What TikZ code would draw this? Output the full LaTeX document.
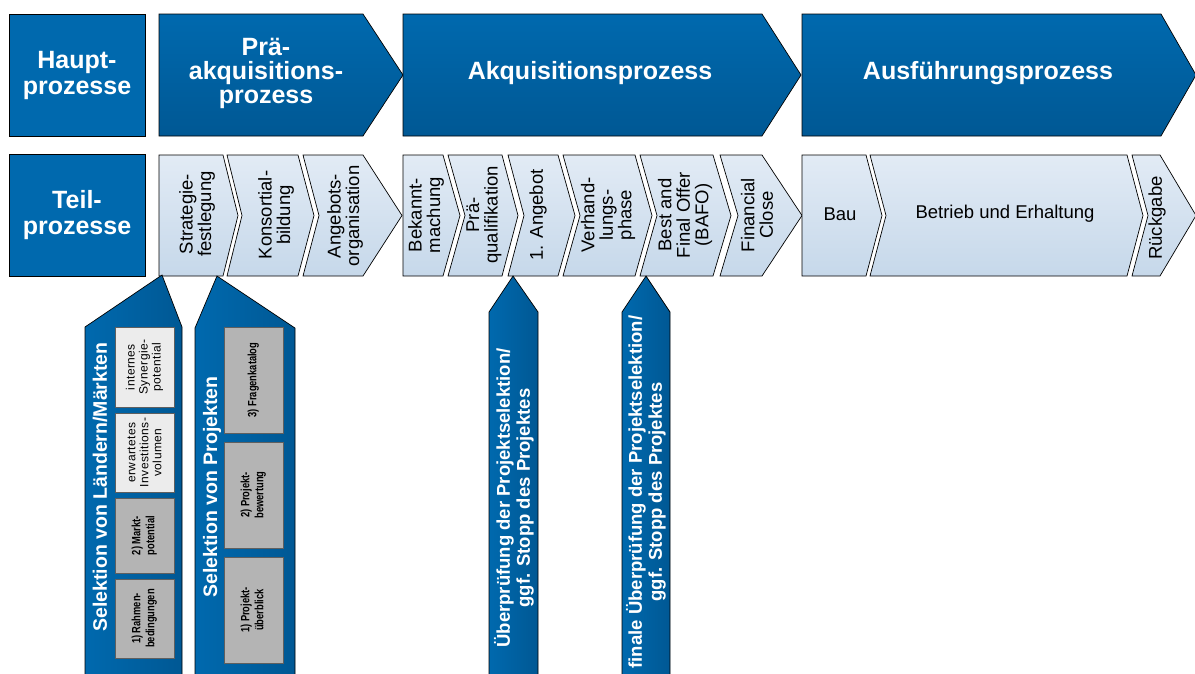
\documentclass[tikz,border=0pt]{standalone}
\usepackage{graphicx}
\usepackage{fontspec}
\setmainfont{Liberation Sans}
\newfontfamily\spacedfont[LetterSpace=4]{Liberation Sans}
\usetikzlibrary{calc,positioning}

\definecolor{procblue}{RGB}{0,105,174}
\definecolor{procbluedark}{RGB}{0,88,148}
\definecolor{sublight}{RGB}{226,235,245}
\definecolor{subdark}{RGB}{198,216,234}
\definecolor{boxdark}{RGB}{180,180,180}
\definecolor{boxlight}{RGB}{236,236,236}
\definecolor{boxedge}{RGB}{95,95,95}

\tikzset{
headbox/.style={draw=black, fill=procblue, minimum width=136pt, minimum height=122pt, inner sep=0pt,
  text=white, font=\bfseries\fontsize{25}{26}\selectfont, align=center},
mainproc/.style={draw=black, top color=procblue, bottom color=procbluedark},
subproc/.style={draw=black, top color=sublight, bottom color=subdark},
selarrow/.style={draw=black, left color=procblue, right color=procbluedark},
headtext/.style={text=white, font=\bfseries\fontsize{25}{24}\selectfont, align=center},
subtext/.style={font=\fontsize{18.5}{18.5}\selectfont, align=center, inner sep=0pt, rotate=90},
flattext/.style={font=\fontsize{18.5}{18.5}\selectfont, align=center, inner sep=0pt},
seltext/.style={text=white, font=\bfseries\fontsize{19.5}{20}\selectfont, align=center, inner sep=0pt, rotate=90},
checktext/.style={text=white, font=\bfseries\fontsize{18.5}{20}\selectfont, align=center, inner sep=0pt, rotate=90},
critbox/.style={draw=boxedge, fill=boxdark, minimum height=59pt, inner sep=0pt, rotate=90,
  font=\bfseries\fontsize{12}{14}\selectfont, align=center},
critboxlight/.style={critbox, fill=boxlight, font=\spacedfont\fontsize{12}{13}\selectfont},
}

% one light sub-phase chevron of the second row: left x, right x, notch depth, tip depth
\newcommand{\subchev}[4]{%
  \draw[subproc] (#1,155) -- (#2,155) -- ({#2+#4},215.5) -- (#2,276) -- (#1,276) -- ({#1+#3},215.5) -- cycle;}
% squeezed bold text of the criteria boxes
\newcommand{\narrowtext}[1]{\scalebox{0.78}[1]{\begin{tabular}{@{}c@{}}#1\end{tabular}}}

\begin{document}
\begin{tikzpicture}[x=1pt,y=-1pt,line width=0.7pt]
\useasboundingbox (0,0) rectangle (1195,673);
\clip (0,0) rectangle (1195,673);

% row headers
\node[headbox] (haupt) at (77,75) {Haupt-\\prozesse};
\node[headbox] (teil) at (77,215) {Teil-\\prozesse};

% main processes
\draw[mainproc] (159,14) -- (363,14) -- (403,75) -- (363,136) -- (159,136) -- cycle;
\draw[mainproc] (403,14) -- (762,14) -- (801,75) -- (762,136) -- (403,136) -- cycle;
\draw[mainproc] (802,14) -- (1161,14) -- (1196,75) -- (1161,136) -- (802,136) -- cycle;
\node[headtext] (praeakq) at (266,73) {Prä-\\akquisitions-\\prozess};
\node[headtext] (akq) at (590,73) {Akquisitionsprozess};
\node[headtext] (ausf) at (988,73) {Ausführungsprozess};

% sub-processes
\subchev{159}{223}{0}{15}
\subchev{227}{298}{15}{16}
\subchev{303}{363}{16}{39}
\subchev{403}{443}{0}{17}
\subchev{448}{502}{17}{16}
\subchev{508}{558}{16}{17}
\subchev{563}{635}{17}{17}
\subchev{640}{713}{17}{18}
\subchev{720}{762}{18}{40}
\subchev{802}{866}{0}{16}
\subchev{870}{1127}{16}{16}
\subchev{1132}{1160}{16}{36}

\node[subtext] (strategie) at (197,214) {Strategie-\\festlegung};
\node[subtext] (konsortial) at (276,215) {Konsortial-\\bildung};
\node[subtext] (angebots) at (345,216) {Angebots-\\organisation};
\node[subtext] (bekannt) at (426,215) {Bekannt-\\machung};
\node[subtext] (praequal) at (484,215) {Prä-\\qualifikation};
\node[subtext] (angebot) at (538,215) {1. Angebot};
\node[subtext] (verhandlung) at (608,215) {Verhand-\\lungs-\\phase};
\node[subtext] (bafo) at (685,215) {Best and\\Final Offer\\(BAFO)};
\node[subtext] (financial) at (757,215) {Financial\\Close};
\node[flattext] (bau) at (840,214) {Bau};
\node[flattext] (betrieb) at (1005,214) {Betrieb und Erhaltung};
\node[subtext] (rueckgabe) at (1157,218) {Rückgabe};

% selection of countries / markets
\draw[selarrow] (85,690) -- (85,327) -- (162,275) -- (182,327) -- (182,690) -- cycle;
\node[seltext] (laender) at (100,487) {Selektion von Ländern/Märkten};
\node[critbox, minimum width=79pt] (rahmen) at (144.5,618.5) {\narrowtext{1) Rahmen-\\bedingungen}};
\node[critbox, minimum width=75pt] (markt) at (144.5,535.5) {\narrowtext{2) Markt-\\potential}};
\node[critboxlight, minimum width=79pt] (invest) at (144.5,452.5) {erwartetes\\Investitions-\\volumen};
\node[critboxlight, minimum width=80pt] (synergie) at (144.5,367) {internes\\Synergie-\\potential};

% selection of projects
\draw[selarrow] (195,690) -- (195,328) -- (217,276) -- (295,328) -- (295,690) -- cycle;
\node[seltext] (projekte) at (212,487) {Selektion von Projekten};
\node[critbox, minimum width=106pt] (ueberblick) at (253.5,610) {\narrowtext{1) Projekt-\\überblick}};
\node[critbox, minimum width=106pt] (bewertung) at (253.5,495) {\narrowtext{2) Projekt-\\bewertung}};
\node[critbox, minimum width=106pt] (fragen) at (253.5,380) {\narrowtext{3) Fragenkatalog}};

% checks during acquisition
\draw[selarrow] (489,690) -- (489,312) -- (513,276) -- (538,312) -- (538,690) -- cycle;
\node[checktext] (check) at (514,498) {Überprüfung der Projektselektion/\\ggf. Stopp des Projektes};
\draw[selarrow] (622,690) -- (622,312) -- (646,276) -- (670,312) -- (670,690) -- cycle;
\node[checktext] (finalcheck) at (646,492) {finale Überprüfung der Projektselektion/\\ggf. Stopp des Projektes};
\end{tikzpicture}
\end{document}
